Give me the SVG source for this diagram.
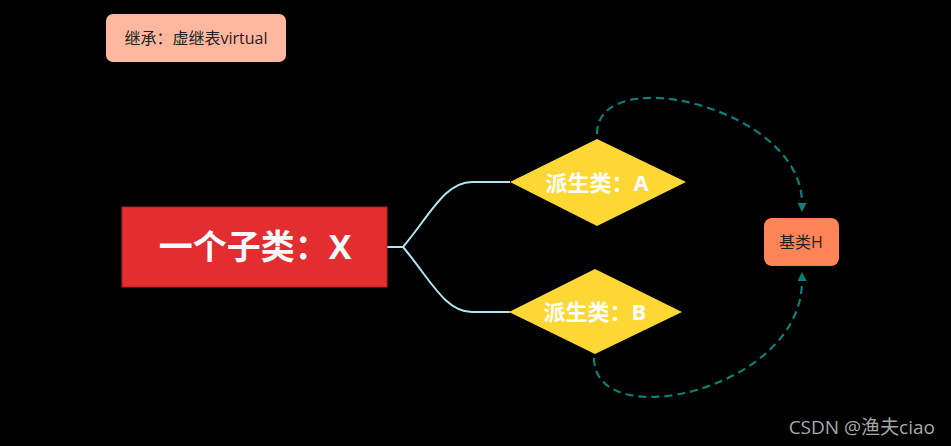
<svg xmlns="http://www.w3.org/2000/svg" width="951" height="446" viewBox="0 0 951 446">
<defs>
<style>
.cjk{font-family:"Open Sans","Noto Sans CJK SC",sans-serif;}
.branch{fill:none;stroke:#AEE6F2;stroke-width:2;}
.dash{fill:none;stroke:#0B7F78;stroke-width:2.2;stroke-dasharray:8 5;}
.dia{fill:#FDD835;}
.dtxt{font-size:22px;font-weight:bold;fill:#FFFFFF;text-anchor:middle;}
</style>
<marker id="arr" viewBox="0 0 10 9" refX="0" refY="4.5" markerWidth="10" markerHeight="9" markerUnits="userSpaceOnUse" orient="auto">
<path d="M0,0 L9,4.5 L0,9 Z" fill="#0B7F78"/>
</marker>
</defs>
<rect width="951" height="446" fill="#000000"/>
<g id="note">
<rect x="106" y="14" width="180" height="48" rx="7" fill="#FFB8A0"/>
<text class="cjk" x="196" y="44" font-size="16" fill="#222" text-anchor="middle">继承：虚继表virtual</text>
</g>
<g id="connectors">
<path class="branch" d="M387,247 L403,247 C430,215 445,182 472,182 L510,182"/>
<path class="branch" d="M403,247 C430,279 445,312 472,312 L510,312"/>
<path class="dash" d="M597,134 C597,60 802,108 802,203" marker-end="url(#arr)"/>
<path class="dash" d="M594,358 C594,436 802,390 802,281" marker-end="url(#arr)"/>
</g>
<g id="nodeX">
<rect x="122" y="207" width="265" height="80" fill="#E32D2F" stroke="#B52022" stroke-width="1"/>
<text class="cjk" x="255" y="259" font-size="34" font-weight="bold" fill="#F4FAFF" text-anchor="middle">一个子类：X</text>
</g>
<g id="nodeA">
<polygon class="dia" points="510,182 597,139 686,182 597,226"/>
<text class="cjk dtxt" x="597" y="191">派生类：A</text>
</g>
<g id="nodeB">
<polygon class="dia" points="509,312 595,269 682,312 595,354"/>
<text class="cjk dtxt" x="595" y="320">派生类：B</text>
</g>
<g id="nodeH">
<rect x="764" y="218" width="75" height="48" rx="8" fill="#FF8559"/>
<text class="cjk" x="801" y="248" font-size="16" fill="#222" text-anchor="middle">基类H</text>
</g>
<text x="935" y="434" font-family="Open Sans, Noto Sans CJK SC, sans-serif" font-size="19" fill="#A8A8A8" text-anchor="end">CSDN @渔夫ciao</text>
</svg>
